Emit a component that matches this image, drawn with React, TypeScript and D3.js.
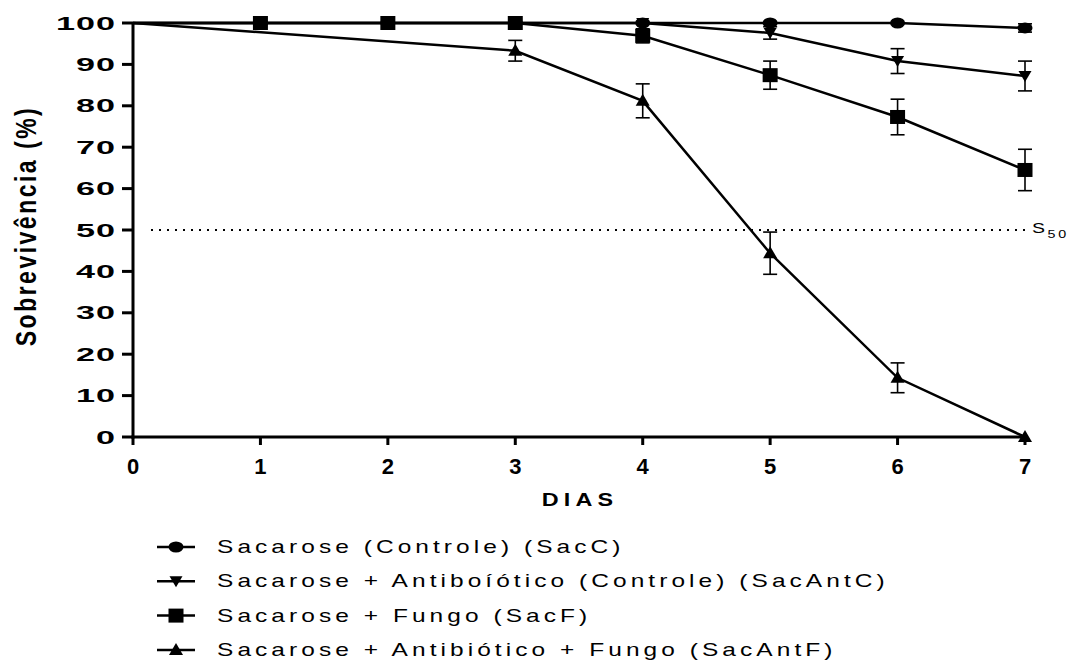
import React from "react";
import * as d3 from "d3";

// survival (%) per day
const days = [0, 1, 2, 3, 4, 5, 6, 7];
const sacC = [100, 100, 100, 100, 100, 100, 100, 98.8];
const sacCErr = [0, 0, 0, 0, 0, 0, 0, 1];
const sacAntC = [100, 100, 100, 100, 100, 97.6, 90.8, 87.2];
const sacAntCErr = [0, 0, 0, 0, 0, 1.5, 3, 3.6];
const sacF = [100, 100, 100, 100, 96.9, 87.4, 77.3, 64.5];
const sacFErr = [0, 0, 0, 0, 1.7, 3.4, 4.3, 5];
const sacAntFDays = [0, 3, 4, 5, 6, 7];
const sacAntF = [100, 93.3, 81.2, 44.4, 14.3, 0];
const sacAntFErr = [0, 2.5, 4.1, 5.1, 3.6, 0];

const yTicks = [0, 10, 20, 30, 40, 50, 60, 70, 80, 90, 100];
const legendLabels = [
  "Sacarose (Controle) (SacC)",
  "Sacarose + Antiboíótico (Controle) (SacAntC)",
  "Sacarose + Fungo (SacF)",
  "Sacarose + Antibiótico + Fungo (SacAntF)",
];

type Shape = "circle" | "down" | "square" | "up";
type Pt = { day: number; v: number; e: number };

const series: { shape: Shape; pts: Pt[] }[] = [
  { shape: "circle", pts: days.map((d, i) => ({ day: d, v: sacC[i], e: sacCErr[i] })) },
  { shape: "down", pts: days.map((d, i) => ({ day: d, v: sacAntC[i], e: sacAntCErr[i] })) },
  { shape: "square", pts: days.map((d, i) => ({ day: d, v: sacF[i], e: sacFErr[i] })) },
  { shape: "up", pts: sacAntFDays.map((d, i) => ({ day: d, v: sacAntF[i], e: sacAntFErr[i] })) },
];

const W = 1074;
const H = 661;
const FONT = "'Liberation Sans', Arial, sans-serif";
const NARROW = "'Liberation Sans Narrow', 'Arial Narrow', 'Liberation Sans', sans-serif";

function Marker({ shape, cx, cy }: { shape: Shape; cx: number; cy: number }) {
  if (shape === "circle") return <ellipse cx={cx} cy={cy} rx={7.5} ry={5.5} fill="#000" />;
  if (shape === "square") return <rect x={cx - 7.5} y={cy - 7} width={15} height={14} fill="#000" />;
  if (shape === "down")
    return <path d={`M${cx - 6.5},${cy - 5} L${cx + 6.5},${cy - 5} L${cx},${cy + 6} Z`} fill="#000" />;
  return <path d={`M${cx - 7},${cy + 5} L${cx + 7},${cy + 5} L${cx},${cy - 7} Z`} fill="#000" />;
}

export default function App() {
  const x = d3.scaleLinear().domain([0, 7]).range([133, 1025]);
  const y = d3.scaleLinear().domain([0, 100]).range([437, 23]);
  const line = d3
    .line<Pt>()
    .x((d) => x(d.day))
    .y((d) => y(d.v));

  return (
    <svg width={W} height={H} style={{ position: "absolute", left: 0, top: 0, background: "#fff" }}>
      {/* S50 reference */}
      <line x1={151} x2={1025} y1={y(50)} y2={y(50)} stroke="#000" strokeWidth={2} strokeDasharray="2,6" />
      <g transform={`translate(1032,${y(50) + 3}) scale(1.3,1)`}>
        <text fontFamily={FONT} fontSize={15} letterSpacing={2}>
          S<tspan fontSize={11} dy={5}>50</tspan>
        </text>
      </g>

      {/* data */}
      {series.map((s, si) => (
        <g key={si}>
          <path d={line(s.pts) || ""} fill="none" stroke="#000" strokeWidth={2.5} />
          {s.pts
            .filter((p) => p.e > 0)
            .map((p, i) => (
              <g key={i} stroke="#000" strokeWidth={1.6}>
                <line x1={x(p.day)} x2={x(p.day)} y1={y(p.v + p.e)} y2={y(p.v - p.e)} />
                <line x1={x(p.day) - 7} x2={x(p.day) + 7} y1={y(p.v + p.e)} y2={y(p.v + p.e)} />
                <line x1={x(p.day) - 7} x2={x(p.day) + 7} y1={y(p.v - p.e)} y2={y(p.v - p.e)} />
              </g>
            ))}
          {s.pts
            .filter((p) => p.day > 0)
            .map((p, i) => (
              <Marker key={i} shape={s.shape} cx={x(p.day)} cy={y(p.v)} />
            ))}
        </g>
      ))}

      {/* axes */}
      <line x1={133} x2={133} y1={y(100)} y2={y(0) + 1.5} stroke="#000" strokeWidth={3} />
      <line x1={131.5} x2={1026} y1={y(0)} y2={y(0)} stroke="#000" strokeWidth={3} />
      {yTicks.map((t) => (
        <g key={t}>
          <line x1={122} x2={133} y1={y(t)} y2={y(t)} stroke="#000" strokeWidth={3} />
          <g transform={`translate(${115 + 0.5 * 1.9},${y(t) + 6.5}) scale(1.9,1)`}>
            <text textAnchor="end" fontFamily={FONT} fontWeight="bold" fontSize={18} letterSpacing={0.5}>
              {t}
            </text>
          </g>
        </g>
      ))}
      {days.map((d) => (
        <g key={d}>
          <line x1={x(d)} x2={x(d)} y1={y(0)} y2={y(0) + 8} stroke="#000" strokeWidth={3} />
          <text x={x(d)} y={y(0) + 37} textAnchor="middle" fontFamily={NARROW} fontWeight="bold" fontSize={22}>
            {d}
          </text>
        </g>
      ))}
      <g transform="translate(580,506) scale(1.3,1)">
        <text textAnchor="middle" fontFamily={FONT} fontWeight="bold" fontSize={18} letterSpacing={4}>
          DIAS
        </text>
      </g>
      <g transform="translate(36,226) rotate(-90) scale(1,1.3)">
        <text textAnchor="middle" fontFamily={FONT} fontWeight="bold" fontSize={23} letterSpacing={2.5}>
          Sobrevivência (%)
        </text>
      </g>

      {/* legend */}
      {legendLabels.map((lab, i) => {
        const ly = 547 + i * 34.3;
        return (
          <g key={i}>
            <line x1={157} x2={195} y1={ly} y2={ly} stroke="#000" strokeWidth={2.5} />
            <Marker shape={series[i].shape} cx={176} cy={ly} />
            <g transform={`translate(217,${ly + 6}) scale(1.4,1)`}>
              <text fontFamily={FONT} fontSize={17.5} letterSpacing={2.9}>
                {lab}
              </text>
            </g>
          </g>
        );
      })}
    </svg>
  );
}
